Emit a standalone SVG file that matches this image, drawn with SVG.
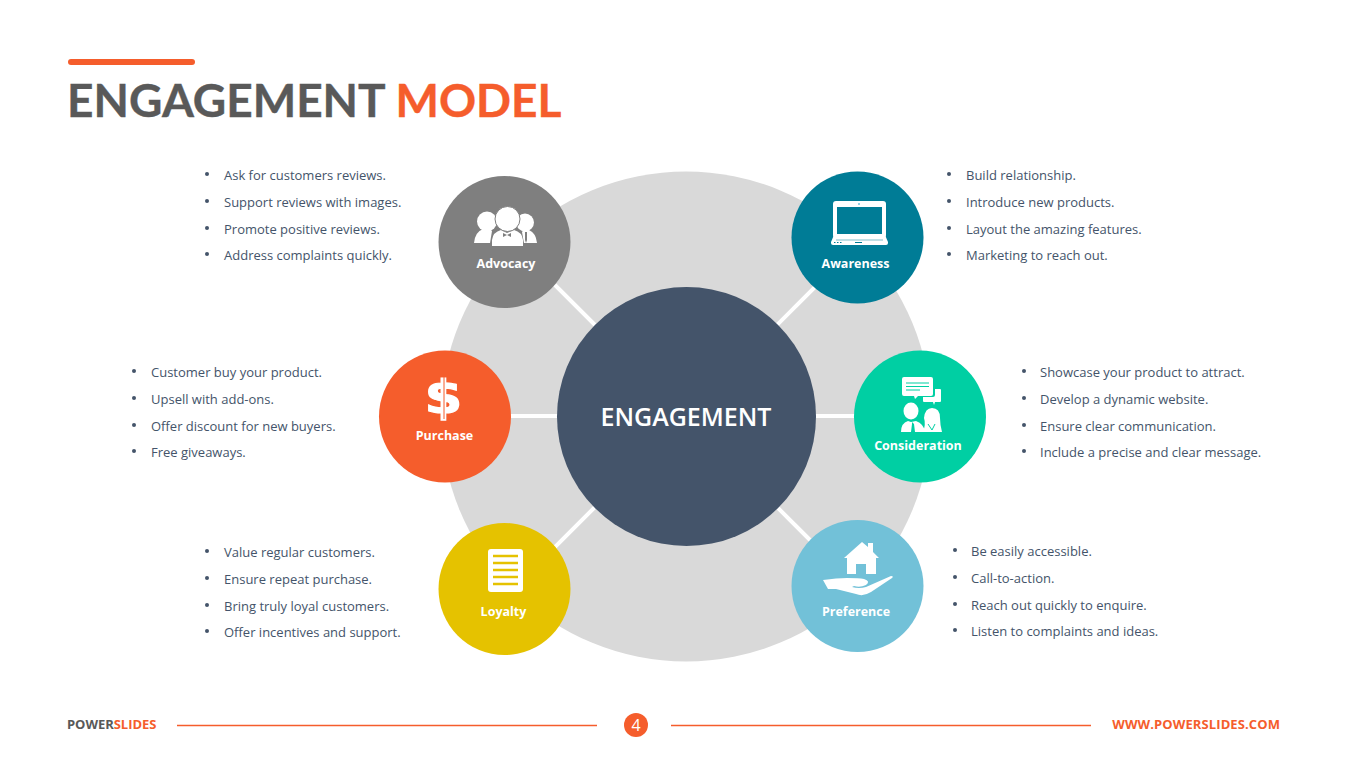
<svg xmlns="http://www.w3.org/2000/svg" width="1365" height="767" viewBox="0 0 1365 767">
<style>
.b{font-family:"Open Sans","Liberation Sans",sans-serif;font-size:13px;fill:#44546a}
.d{fill:#44546a}
.l{font-family:"Open Sans","Liberation Sans",sans-serif;font-size:12.5px;font-weight:700;fill:#fff;text-anchor:middle}
.w{fill:#fff}
.c{stroke:#fff;stroke-width:4;fill:none}
.f{stroke:#f55d2c;stroke-width:1.6}
</style>
<rect width="1365" height="767" fill="#fff"/>
<g id="title">
<rect x="68" y="59" width="127" height="6" rx="3" fill="#f55d2c"/>
<text x="67" y="117" font-family="Lato,'Open Sans',sans-serif" font-size="46" font-weight="700" fill="#595959" stroke="#595959" stroke-width="0.4">ENGAGEMENT <tspan fill="#f55d2c" stroke="#f55d2c">MODEL</tspan></text>
</g>
<circle id="backdrop" cx="686" cy="416.500" r="245" fill="#d9d9d9"/>
<g id="connectors">
<line class="c" x1="505" y1="235" x2="686" y2="416"/>
<line class="c" x1="857" y1="245" x2="686" y2="416"/>
<line class="c" x1="445" y1="416" x2="920" y2="416"/>
<line class="c" x1="505" y1="597" x2="686" y2="416"/>
<line class="c" x1="857" y1="587" x2="686" y2="416"/>
</g>
<g id="center">
<circle cx="686.500" cy="416.500" r="129.500" fill="#44546a"/>
<text x="686" y="426" font-family="'Open Sans','Liberation Sans',sans-serif" font-size="25" font-weight="600" fill="#fff" text-anchor="middle">ENGAGEMENT</text>
</g>
<g id="advocacy">
<circle cx="504.500" cy="242" r="66" fill="#7f7f7f"/>
<g class="w">
<circle cx="487" cy="221.500" r="10"/><circle cx="525" cy="222.500" r="9"/>
<path d="M474 243q1-11 9-14l5-1 4 3-2 12z"/>
<path d="M537 243q-1-10-8-13l-5-1-2 3 2 11z"/>
<path d="M492 246v-6q1-8 9-10l6 3 7-3q8 2 9 10v6z"/>
</g>
<circle cx="507.500" cy="219" r="12.500" class="w" stroke="#7f7f7f"/>
<path d="M503 233l4 2 4-2v4l-4-2-4 2z" fill="#7f7f7f"/>
<path d="M525 232v8l1 3 1-3v-8z" fill="#7f7f7f"/>
<text class="l" x="506" y="268">Advocacy</text>
</g>
<g id="awareness">
<circle cx="857.500" cy="237.500" r="66" fill="#007c96"/>
<rect x="833" y="201" width="53" height="37" rx="3" class="w"/>
<rect x="837" y="207" width="45" height="27" fill="#007c96"/>
<circle cx="859" cy="204" r="1" fill="#72c1d8"/>
<path d="M834 235h51l3 7v1q0 2-2 2h-53q-2 0-2-2v-1z" class="w"/>
<path d="M836 240h47" stroke="#007c96" stroke-width=".5"/>
<path d="M855 242.500h7M834 242.500h1.500M837 242.500h1.500M840 242.500h1.500" stroke="#007c96" stroke-width="1"/>
<text class="l" x="855.500" y="268">Awareness</text>
</g>
<g id="consideration">
<circle cx="920" cy="416.500" r="66" fill="#00cfa3"/>
<path d="M904 377h27q2 0 2 2v15q0 2-2 2h-13l-3 3-1-3h-10q-2 0-2-2v-15q0-2 2-2z" class="w"/>
<path d="M906 383h23M906 386.500h23M906 390h14" stroke="#00cfa3" stroke-width="1" fill="none"/>
<path d="M935 389h5q1 0 1 1v11q0 1-1 1h-5l-1 3-1-3h-9q-1 0-1-1v-4h10q2 0 2-2z" class="w"/>
<ellipse cx="911" cy="411" rx="7.500" ry="8.500" class="w"/>
<path d="M901 432q0-9 7-11l3 1 5-1q8 3 9 11z" class="w"/>
<path d="M923 432q3-8 1-14 1-10 8-10 8 0 8 10 0 6 2 14z" class="w"/>
<path d="M912 422l2 2 1 8h-4l1-8z" fill="#00cfa3"/>
<path d="M928 424l4 6 3-6" stroke="#00cfa3" stroke-width="1" fill="none"/>
<text class="l" x="918" y="450">Consideration</text>
</g>
<g id="preference">
<circle cx="857.500" cy="586" r="66" fill="#72c1d8"/>
<path d="M844 558l18-16 6 5v-4h5v9l6 6h-3v16h-10v-10h-10v10h-9v-16z" class="w"/>
<path d="M823 580q14-2 24-2 12 0 17 1 7 2 2 6-6 3-12 1l-2 1q7 2 14 0l25-11q3 0 1 2l-21 14q-8 5-15 2l-20-5-8 0z" class="w"/>
<text class="l" x="856" y="616">Preference</text>
</g>
<g id="loyalty">
<circle cx="504.500" cy="589" r="66" fill="#e5c200"/>
<rect x="488" y="549" width="35" height="43" rx="3" class="w"/>
<path d="M493 556h25M493 563h25M493 570h25M493 577h25M493 584h25" stroke="#e5c200" stroke-width="2.500" fill="none"/>
<text class="l" x="503.500" y="616">Loyalty</text>
</g>
<g id="purchase">
<circle cx="445" cy="416.500" r="66" fill="#f55d2c"/>
<text transform="translate(443.500 412.500) scale(1.18 1)" font-family="'DejaVu Sans',sans-serif" font-size="46" font-weight="700" fill="#fff" text-anchor="middle" stroke="#fff" stroke-width="1.200">$</text>
<path d="M444 377v42" stroke="#f55d2c" stroke-width="1"/>
<text class="l" x="444.500" y="440">Purchase</text>
</g>
<g id="text-advocacy">
<circle class="d" cx="207" cy="174" r="2"/><text class="b" x="224" y="180">Ask for customers reviews.</text>
<circle class="d" cx="207" cy="201" r="2"/><text class="b" x="224" y="207">Support reviews with images.</text>
<circle class="d" cx="207" cy="228" r="2"/><text class="b" x="224" y="234">Promote positive reviews.</text>
<circle class="d" cx="207" cy="254" r="2"/><text class="b" x="224" y="260">Address complaints quickly.</text>
</g>
<g id="text-awareness">
<circle class="d" cx="949" cy="174" r="2"/><text class="b" x="966" y="180">Build relationship.</text>
<circle class="d" cx="949" cy="201" r="2"/><text class="b" x="966" y="207">Introduce new products.</text>
<circle class="d" cx="949" cy="228" r="2"/><text class="b" x="966" y="234">Layout the amazing features.</text>
<circle class="d" cx="949" cy="254" r="2"/><text class="b" x="966" y="260">Marketing to reach out.</text>
</g>
<g id="text-purchase">
<circle class="d" cx="134" cy="371" r="2"/><text class="b" x="151" y="377">Customer buy your product.</text>
<circle class="d" cx="134" cy="398" r="2"/><text class="b" x="151" y="404">Upsell with add-ons.</text>
<circle class="d" cx="134" cy="425" r="2"/><text class="b" x="151" y="431">Offer discount for new buyers.</text>
<circle class="d" cx="134" cy="451" r="2"/><text class="b" x="151" y="457">Free giveaways.</text>
</g>
<g id="text-consideration">
<circle class="d" cx="1024" cy="371" r="2"/><text class="b" x="1040" y="377">Showcase your product to attract.</text>
<circle class="d" cx="1024" cy="398" r="2"/><text class="b" x="1040" y="404">Develop a dynamic website.</text>
<circle class="d" cx="1024" cy="425" r="2"/><text class="b" x="1040" y="431">Ensure clear communication.</text>
<circle class="d" cx="1024" cy="451" r="2"/><text class="b" x="1040" y="457">Include a precise and clear message.</text>
</g>
<g id="text-loyalty">
<circle class="d" cx="207" cy="551" r="2"/><text class="b" x="224" y="557">Value regular customers.</text>
<circle class="d" cx="207" cy="578" r="2"/><text class="b" x="224" y="584">Ensure repeat purchase.</text>
<circle class="d" cx="207" cy="605" r="2"/><text class="b" x="224" y="611">Bring truly loyal customers.</text>
<circle class="d" cx="207" cy="631" r="2"/><text class="b" x="224" y="637">Offer incentives and support.</text>
</g>
<g id="text-preference">
<circle class="d" cx="955" cy="550" r="2"/><text class="b" x="971" y="556">Be easily accessible.</text>
<circle class="d" cx="955" cy="577" r="2"/><text class="b" x="971" y="583">Call-to-action.</text>
<circle class="d" cx="955" cy="604" r="2"/><text class="b" x="971" y="610">Reach out quickly to enquire.</text>
<circle class="d" cx="955" cy="630" r="2"/><text class="b" x="971" y="636">Listen to complaints and ideas.</text>
</g>
<g id="footer">
<text x="67" y="729" font-family="'Open Sans','Liberation Sans',sans-serif" font-size="13" font-weight="700" letter-spacing="-0.040" fill="#595959">POWER<tspan fill="#f55d2c">SLIDES</tspan></text>
<line class="f" x1="177" y1="725.500" x2="597" y2="725.500"/>
<circle cx="636" cy="725" r="12" fill="#f55d2c"/>
<text x="636" y="731" font-family="'Open Sans','Liberation Sans',sans-serif" font-size="16" fill="#fff" text-anchor="middle">4</text>
<line class="f" x1="671" y1="725.500" x2="1091" y2="725.500"/>
<text x="1280" y="729" font-family="'Open Sans','Liberation Sans',sans-serif" font-size="13" font-weight="700" letter-spacing="0.100" fill="#f55d2c" text-anchor="end">WWW.POWERSLIDES.COM</text>
</g>
</svg>
